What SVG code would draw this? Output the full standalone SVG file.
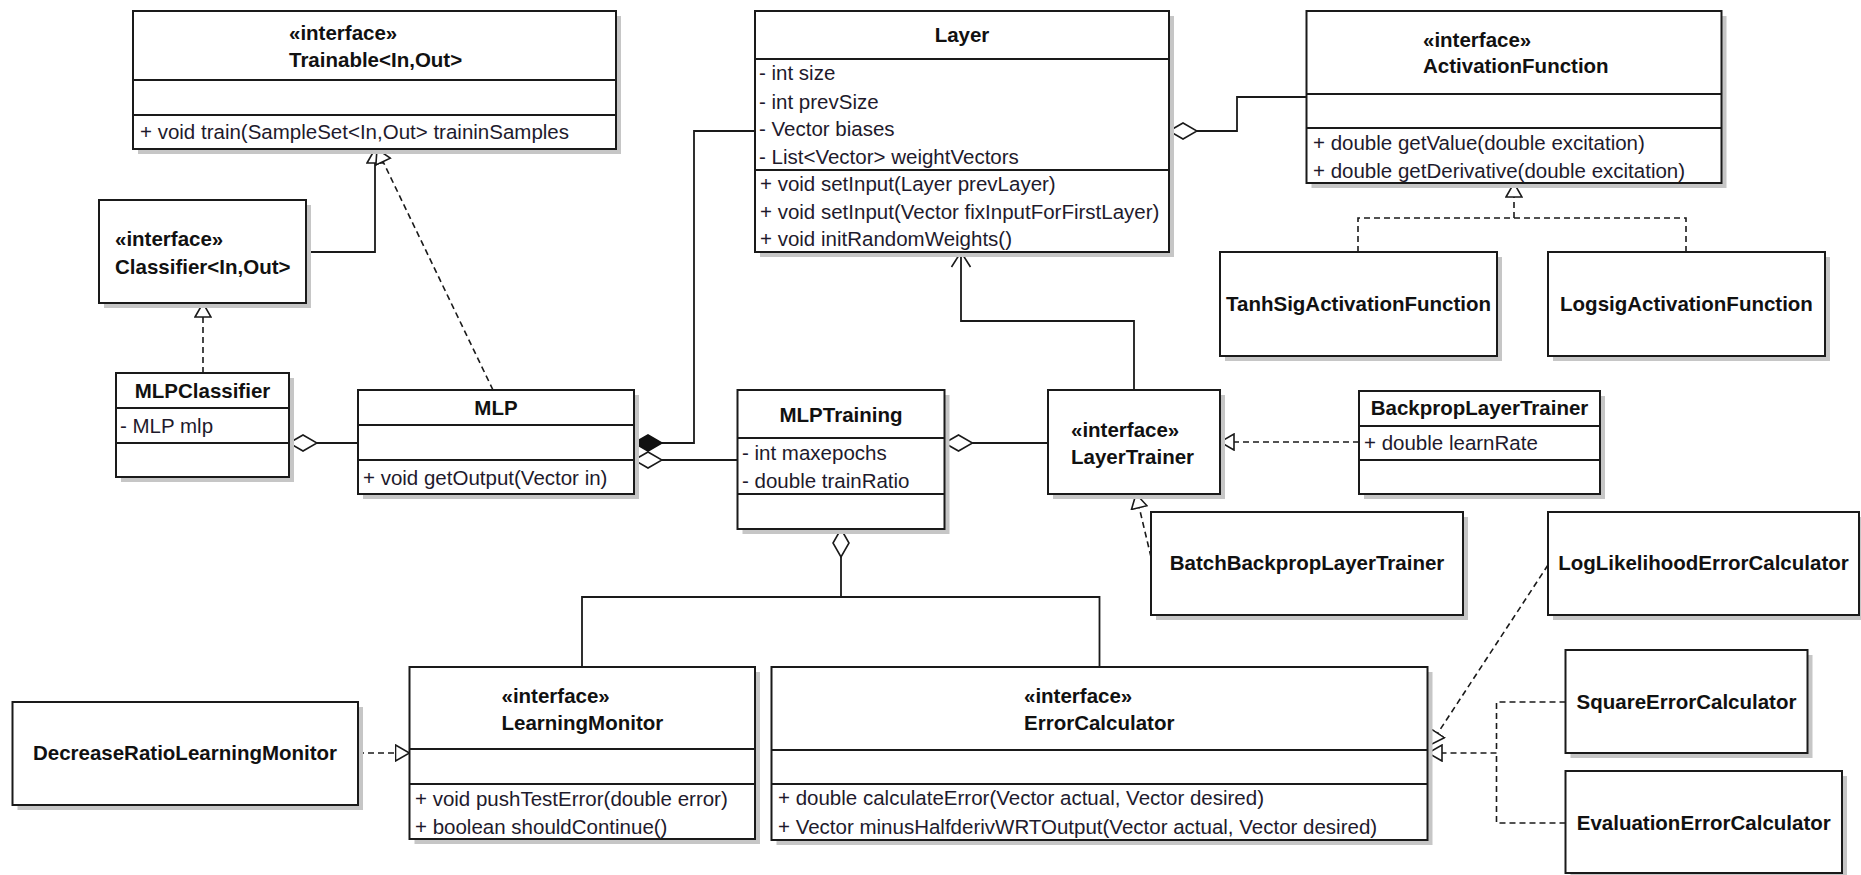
<svg xmlns="http://www.w3.org/2000/svg" width="1861" height="875" viewBox="0 0 1861 875">
<style>
.box{fill:#fff;stroke:#1a1a1a;stroke-width:2}
.sh{fill:#c6c6c6;filter:url(#blur)}
.dv{stroke:#1a1a1a;stroke-width:2}
.t{font-family:"Liberation Sans",Arial,sans-serif;font-size:20.5px;fill:#111}
.b{font-weight:bold}
.m{fill:#1e1a2c}
.c{text-anchor:middle}
.ln{fill:none;stroke:#1a1a1a;stroke-width:1.8}
.dash{stroke-dasharray:6 4;stroke-width:1.6}
</style>
<defs>
<filter id="blur" x="-5%" y="-5%" width="110%" height="110%"><feGaussianBlur stdDeviation="0.7"/></filter>
<marker id="tri" markerUnits="userSpaceOnUse" viewBox="0 0 16 18" markerWidth="16" markerHeight="18" refX="15" refY="9" orient="auto"><path d="M1,1 L15,9 L1,17 Z" fill="#fff" stroke="#1a1a1a" stroke-width="1.6" stroke-dasharray="none"/></marker>
<marker id="dia" markerUnits="userSpaceOnUse" viewBox="0 0 30 20" markerWidth="30" markerHeight="20" refX="1" refY="10" orient="auto"><path d="M1,10 L15,2 L29,10 L15,18 Z" fill="#fff" stroke="#1a1a1a" stroke-width="1.6"/></marker>
<marker id="fdia" markerUnits="userSpaceOnUse" viewBox="0 0 30 20" markerWidth="30" markerHeight="20" refX="1" refY="10" orient="auto"><path d="M1,10 L15,2 L29,10 L15,18 Z" fill="#111" stroke="#111" stroke-width="1.6"/></marker>
<marker id="arr" markerUnits="userSpaceOnUse" viewBox="0 0 20 22" markerWidth="20" markerHeight="22" refX="18" refY="11" orient="auto"><path d="M3,1.5 L18,11 L3,20.5" fill="none" stroke="#1a1a1a" stroke-width="1.6"/></marker>
</defs>
<rect width="1861" height="875" fill="#fff"/>

<g id="connectors">
<path class="ln" d="M306,252 H375 V149" marker-end="url(#tri)"/>
<path class="ln dash" d="M493,390 L377,149" marker-end="url(#tri)"/>
<path class="ln dash" d="M203,373 V303" marker-end="url(#tri)"/>
<path class="ln" d="M289,443 H358" marker-start="url(#dia)"/>
<path class="ln" d="M634,443 H694 V131 H755" marker-start="url(#fdia)"/>
<path class="ln" d="M634,460 H737.5" marker-start="url(#dia)"/>
<path class="ln" d="M1169,131 H1237 V97 H1306.5" marker-start="url(#dia)"/>
<path class="ln" d="M1134,390 V321 H961 V252" marker-end="url(#arr)"/>
<path class="ln" d="M944.5,443 H1048" marker-start="url(#dia)"/>
<path class="ln dash" d="M1359,442 H1220" marker-end="url(#tri)"/>
<path class="ln dash" d="M1151,557 L1136,494" marker-end="url(#tri)"/>
<path class="ln dash" d="M1686,252 V218 H1514"/>
<path class="ln dash" d="M1358,252 V218 H1514 V183" marker-end="url(#tri)"/>
<path class="ln" d="M841,597 H1099.5 V667"/>
<path class="ln" d="M841,529 V597 H582 V667" marker-start="url(#dia)"/>
<path class="ln dash" d="M358,753 H409.5" marker-end="url(#tri)"/>
<path class="ln dash" d="M1548,565 L1430,745" marker-end="url(#tri)"/>
<path class="ln dash" d="M1565.5,823 H1496.5 V753"/>
<path class="ln dash" d="M1565.5,702 H1496.5 V753 H1428" marker-end="url(#tri)"/>
</g>

<g id="Trainable">
<rect class="sh" x="138" y="16" width="483" height="138"/>
<rect class="box" x="133" y="11" width="483" height="138"/>
<line class="dv" x1="133" y1="80" x2="616" y2="80"/>
<line class="dv" x1="133" y1="115" x2="616" y2="115"/>
<text class="t b" x="289" y="40">«interface»</text>
<text class="t b" x="289" y="67">Trainable&lt;In,Out&gt;</text>
<text class="t m" x="140" y="139">+ void train(SampleSet&lt;In,Out&gt; traininSamples</text>
</g>

<g id="Classifier">
<rect class="sh" x="104" y="205" width="207" height="103"/>
<rect class="box" x="99" y="200" width="207" height="103"/>
<text class="t b" x="115" y="246">«interface»</text>
<text class="t b" x="115" y="274">Classifier&lt;In,Out&gt;</text>
</g>

<g id="MLPClassifier">
<rect class="sh" x="121" y="378" width="173" height="104"/>
<rect class="box" x="116" y="373" width="173" height="104"/>
<line class="dv" x1="116" y1="408" x2="289" y2="408"/>
<line class="dv" x1="116" y1="443" x2="289" y2="443"/>
<text class="t b c" x="202.5" y="398">MLPClassifier</text>
<text class="t m" x="120" y="433">- MLP mlp</text>
</g>

<g id="MLP">
<rect class="sh" x="363" y="395" width="276" height="104"/>
<rect class="box" x="358" y="390" width="276" height="104"/>
<line class="dv" x1="358" y1="425" x2="634" y2="425"/>
<line class="dv" x1="358" y1="460" x2="634" y2="460"/>
<text class="t b c" x="496" y="415">MLP</text>
<text class="t m" x="363" y="485">+ void getOutput(Vector in)</text>
</g>

<g id="Layer">
<rect class="sh" x="760" y="16" width="414" height="241"/>
<rect class="box" x="755" y="11" width="414" height="241"/>
<line class="dv" x1="755" y1="59" x2="1169" y2="59"/>
<line class="dv" x1="755" y1="170" x2="1169" y2="170"/>
<text class="t b c" x="962" y="42">Layer</text>
<text class="t m" x="759" y="80">- int size</text>
<text class="t m" x="759" y="109">- int prevSize</text>
<text class="t m" x="759" y="136">- Vector biases</text>
<text class="t m" x="759" y="164">- List&lt;Vector&gt; weightVectors</text>
<text class="t m" x="760" y="191">+ void setInput(Layer prevLayer)</text>
<text class="t m" x="760" y="219">+ void setInput(Vector fixInputForFirstLayer)</text>
<text class="t m" x="760" y="246">+ void initRandomWeights()</text>
</g>

<g id="ActivationFunction">
<rect class="sh" x="1311.5" y="16" width="415" height="172"/>
<rect class="box" x="1306.5" y="11" width="415" height="172"/>
<line class="dv" x1="1306.5" y1="94" x2="1721.5" y2="94"/>
<line class="dv" x1="1306.5" y1="128" x2="1721.5" y2="128"/>
<text class="t b" x="1423" y="47">«interface»</text>
<text class="t b" x="1423" y="73">ActivationFunction</text>
<text class="t m" x="1313" y="150">+ double getValue(double excitation)</text>
<text class="t m" x="1313" y="178">+ double getDerivative(double excitation)</text>
</g>

<g id="TanhSigActivationFunction">
<rect class="sh" x="1225" y="257" width="277" height="104"/>
<rect class="box" x="1220" y="252" width="277" height="104"/>
<text class="t b c" x="1358.5" y="311">TanhSigActivationFunction</text>
</g>

<g id="LogsigActivationFunction">
<rect class="sh" x="1553" y="257" width="277" height="104"/>
<rect class="box" x="1548" y="252" width="277" height="104"/>
<text class="t b c" x="1686.5" y="311">LogsigActivationFunction</text>
</g>

<g id="MLPTraining">
<rect class="sh" x="742.5" y="395" width="207" height="139"/>
<rect class="box" x="737.5" y="390" width="207" height="139"/>
<line class="dv" x1="737.5" y1="438" x2="944.5" y2="438"/>
<line class="dv" x1="737.5" y1="494" x2="944.5" y2="494"/>
<text class="t b c" x="841" y="422">MLPTraining</text>
<text class="t m" x="742" y="460">- int maxepochs</text>
<text class="t m" x="742" y="488">- double trainRatio</text>
</g>

<g id="LayerTrainer">
<rect class="sh" x="1053" y="395" width="172" height="104"/>
<rect class="box" x="1048" y="390" width="172" height="104"/>
<text class="t b" x="1071" y="437">«interface»</text>
<text class="t b" x="1071" y="464">LayerTrainer</text>
</g>

<g id="BackpropLayerTrainer">
<rect class="sh" x="1364" y="396" width="241" height="103"/>
<rect class="box" x="1359" y="391" width="241" height="103"/>
<line class="dv" x1="1359" y1="426" x2="1600" y2="426"/>
<line class="dv" x1="1359" y1="460" x2="1600" y2="460"/>
<text class="t b c" x="1479.5" y="415">BackpropLayerTrainer</text>
<text class="t m" x="1364" y="450">+ double learnRate</text>
</g>

<g id="BatchBackpropLayerTrainer">
<rect class="sh" x="1156" y="517" width="312" height="103"/>
<rect class="box" x="1151" y="512" width="312" height="103"/>
<text class="t b c" x="1307" y="570">BatchBackpropLayerTrainer</text>
</g>

<g id="LogLikelihoodErrorCalculator">
<rect class="sh" x="1553" y="517" width="311" height="103"/>
<rect class="box" x="1548" y="512" width="311" height="103"/>
<text class="t b c" x="1703.5" y="570">LogLikelihoodErrorCalculator</text>
</g>

<g id="SquareErrorCalculator">
<rect class="sh" x="1570.5" y="655" width="242" height="103"/>
<rect class="box" x="1565.5" y="650" width="242" height="103"/>
<text class="t b c" x="1686.5" y="709">SquareErrorCalculator</text>
</g>

<g id="EvaluationErrorCalculator">
<rect class="sh" x="1570.5" y="776" width="276.5" height="102"/>
<rect class="box" x="1565.5" y="771" width="276.5" height="102"/>
<text class="t b c" x="1703.75" y="830">EvaluationErrorCalculator</text>
</g>

<g id="ErrorCalculator">
<rect class="sh" x="776.5" y="672" width="656" height="173"/>
<rect class="box" x="771.5" y="667" width="656" height="173"/>
<line class="dv" x1="771.5" y1="750" x2="1427.5" y2="750"/>
<line class="dv" x1="771.5" y1="784" x2="1427.5" y2="784"/>
<text class="t b" x="1024" y="703">«interface»</text>
<text class="t b" x="1024" y="730">ErrorCalculator</text>
<text class="t m" x="778" y="805">+ double calculateError(Vector actual, Vector desired)</text>
<text class="t m" x="778" y="834">+ Vector minusHalfderivWRTOutput(Vector actual, Vector desired)</text>
</g>

<g id="LearningMonitor">
<rect class="sh" x="414.5" y="672" width="345.5" height="172"/>
<rect class="box" x="409.5" y="667" width="345.5" height="172"/>
<line class="dv" x1="409.5" y1="749" x2="755" y2="749"/>
<line class="dv" x1="409.5" y1="784" x2="755" y2="784"/>
<text class="t b" x="501.5" y="703">«interface»</text>
<text class="t b" x="501.5" y="730">LearningMonitor</text>
<text class="t m" x="415" y="806">+ void pushTestError(double error)</text>
<text class="t m" x="415" y="834">+ boolean shouldContinue()</text>
</g>

<g id="DecreaseRatioLearningMonitor">
<rect class="sh" x="17.5" y="707" width="345.5" height="103"/>
<rect class="box" x="12.5" y="702" width="345.5" height="103"/>
<text class="t b c" x="185" y="760">DecreaseRatioLearningMonitor</text>
</g>
</svg>
